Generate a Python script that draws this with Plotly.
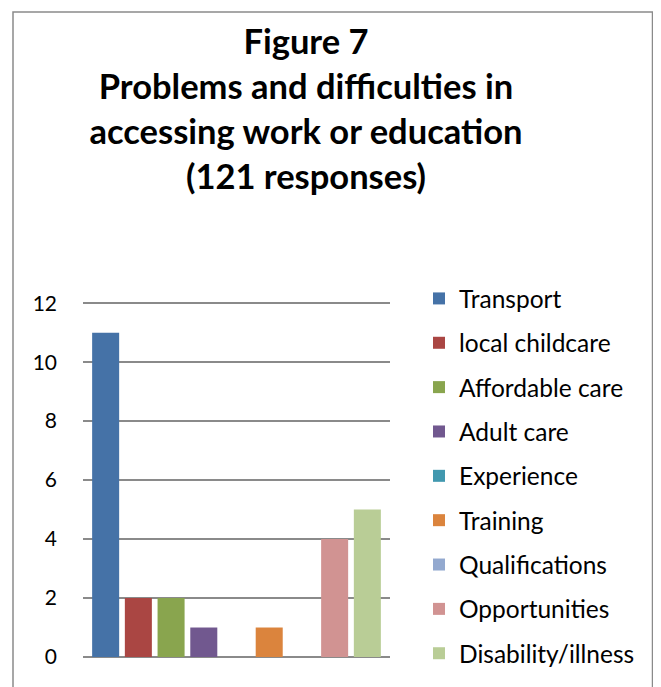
import plotly.graph_objects as go

categories = ["Transport", "local childcare", "Affordable care", "Adult care", "Experience",
              "Training", "Qualifications", "Opportunities", "Disability/illness"]
values = [11, 2, 2, 1, 0, 1, 0, 4, 5]
colors = ["#4572A7", "#AA4643", "#89A54E", "#71588F", "#4198AF",
          "#DB843D", "#93A9CF", "#D19392", "#B9CD96"]
y_ticks = [0, 2, 4, 6, 8, 10, 12]

FONT = "Lato, Carlito, Calibri, sans-serif"

fig = go.Figure()
for name, v, c in zip(categories, values, colors):
    fig.add_trace(go.Bar(x=[""], y=[v], name=name, marker_color=c,
                         marker_line_width=0, legendgroup=name))

# the page has an 8px body margin, so work in page coords and subtract 8
OFF = 8
W, H = 653, 679
L, T, B = 75, 294, 30
R = W - L - 307
pw, ph = W - L - R, H - T - B

def px_x(x):  # page x -> paper
    return (x - OFF - L) / pw

def px_y(y):  # page y -> paper
    return (H - B - (y - OFF)) / ph

fig.update_layout(
    width=W, height=H,
    margin=dict(l=L, r=R, t=T, b=B, autoexpand=False),
    paper_bgcolor="white", plot_bgcolor="white",
    barmode="group", bargap=0.041, bargroupgap=0.174,
    font=dict(family=FONT, color="#000000"),
    title=dict(
        text="<b>Figure 7<br>Problems and difficulties in<br>accessing work or education<br>(121 responses)</b>",
        x=(306 - OFF) / W, xanchor="center", xref="container",
        y=1 - (54 - OFF) / H, yanchor="top", yref="container",
        font=dict(size=34.5, family=FONT, color="#000000"),
    ),
    showlegend=True,
    legend=dict(
        x=(419 - OFF) / W, xref="container", xanchor="left",
        y=1 - (276 - OFF) / H, yref="container", yanchor="top",
        font=dict(size=24.5, family=FONT, color="#000000"),
        tracegroupgap=9.5, itemclick=False, maxheight=H,
        bgcolor="rgba(0,0,0,0)", borderwidth=0,
    ),
    xaxis=dict(showticklabels=False, showgrid=False, zeroline=False,
               showline=False, ticks="", fixedrange=True),
    yaxis=dict(range=[0, 12.04], tickvals=y_ticks, showgrid=True,
               gridcolor="#8A8A8A", gridwidth=1.6, zeroline=True,
               zerolinecolor="#8A8A8A", zerolinewidth=1.6, showline=False,
               ticks="", ticklabelstandoff=25,
               tickfont=dict(size=21, family=FONT, color="#000000")),
    shapes=[dict(type="rect", xref="paper", yref="paper",
                 x0=px_x(13), x1=px_x(652.5), y0=px_y(720), y1=px_y(12),
                 line=dict(color="#8A8A8A", width=1.5), fillcolor="rgba(0,0,0,0)",
                 layer="below")],
)

fig.write_html("out.html")
